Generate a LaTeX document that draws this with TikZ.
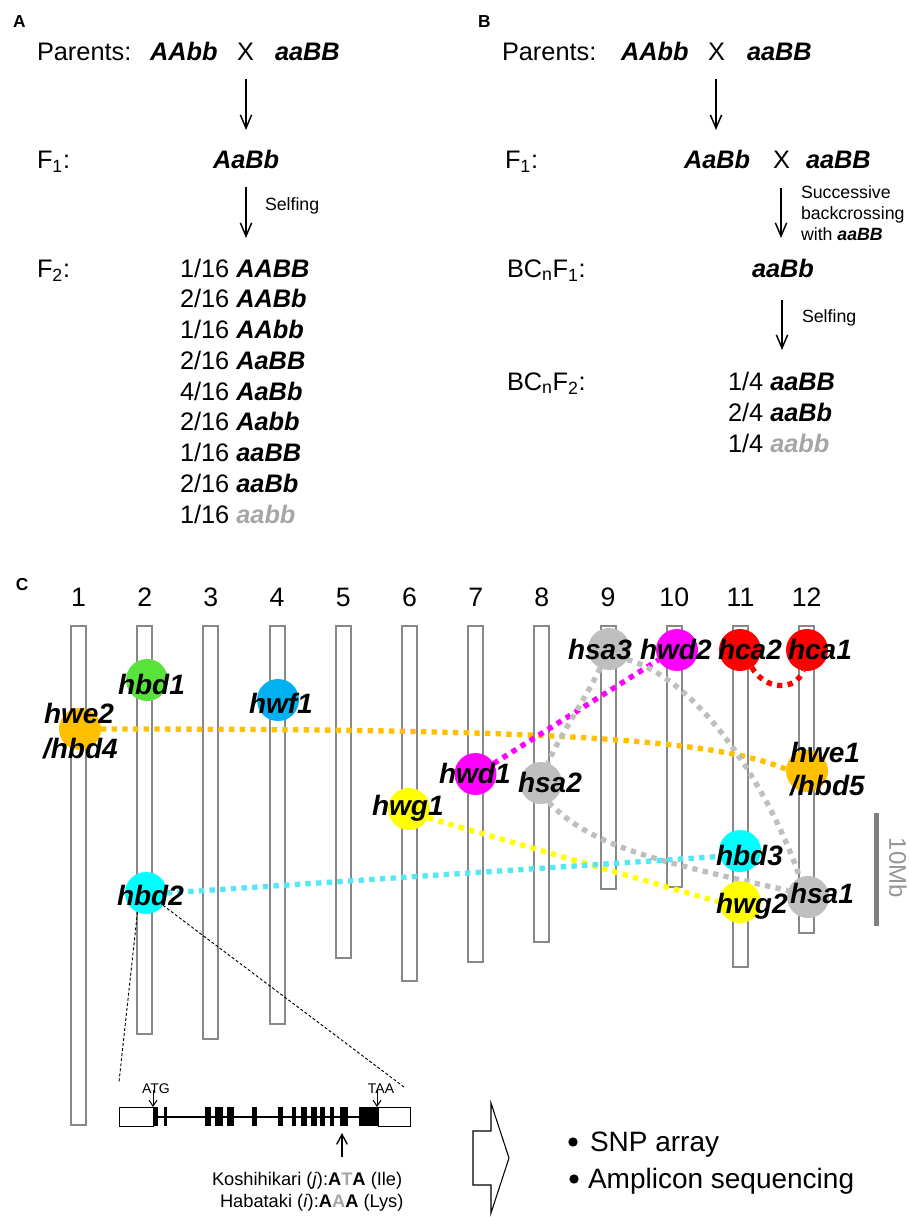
\documentclass[tikz,border=0pt]{standalone}
\usepackage{fontspec}
\setmainfont{Liberation Sans}
\usetikzlibrary{arrows.meta}
\definecolor{chromgray}{RGB}{136,136,136}
\definecolor{cgreen}{RGB}{88,226,58}
\definecolor{cblue}{RGB}{0,176,240}
\definecolor{corange}{RGB}{255,192,0}
\definecolor{ccyan}{RGB}{0,255,255}
\definecolor{clink}{RGB}{85,230,248}
\definecolor{cmagenta}{RGB}{255,0,255}
\definecolor{cyellow}{RGB}{255,255,0}
\definecolor{cred}{RGB}{255,0,0}
\definecolor{cgray}{RGB}{191,191,191}
\definecolor{txtgray}{RGB}{166,166,166}
\definecolor{barmid}{RGB}{128,128,128}
\definecolor{bartext}{RGB}{150,150,150}
\newcommand\geno[1]{\textbf{\textit{#1}}}
\pgfdeclarelayer{back}
\pgfdeclarelayer{links}
\pgfsetlayers{back,links,main}
\begin{document}
\begin{tikzpicture}[x=0.75pt,y=-0.75pt,
  every node/.style={inner sep=0pt,outer sep=0pt},
  big/.style={font=\fontsize{19}{22}\selectfont,anchor=base west},
  note/.style={font=\fontsize{13.3}{16}\selectfont,anchor=base west},
  panel/.style={font=\fontsize{13}{15}\selectfont\bfseries,anchor=base west},
  flow/.style={-{Straight Barb[length=10pt,width=8.5pt]},line width=1.1pt},
  chrom/.style={draw=chromgray,line width=1.4pt,fill=white},
  locus/.style={circle,minimum size=31.5pt,draw=none},
  glab/.style={font=\fontsize{21}{24}\selectfont\bfseries\itshape,anchor=base west},
  link/.style={line width=4pt,dash pattern=on 4pt off 4pt},
  zoomline/.style={line width=0.7pt,dash pattern=on 2.2pt off 1.6pt}]
\useasboundingbox (0,0) rectangle (909,1217);

% ---------------- A: F2 population ----------------
\node[panel] (labA) at (13,27) {A};
\node[big] (pA) at (37,60) {Parents:};
\node[big] (pA1) at (150,60) {\geno{AAbb}};
\node[big] (pAx) at (237,60) {X};
\node[big] (pA2) at (275,60) {\geno{aaBB}};
\coordinate (a1s) at (246,79); \coordinate (a1e) at (246,130);
\draw[flow] (a1s) -- (a1e);
\node[big] (fA) at (37,168) {F\textsubscript{1}:};
\node[big] (fA1) at (213,168) {\geno{AaBb}};
\coordinate (a2s) at (246,187); \coordinate (a2e) at (246,238);
\draw[flow] (a2s) -- (a2e);
\node[note] (sA) at (265,210) {Selfing};
\node[big] (f2A) at (37,277) {F\textsubscript{2}:};
\foreach \r/\fr/\gt/\col in {0/1/AABB/black,1/2/AABb/black,2/1/AAbb/black,3/2/AaBB/black,
  4/4/AaBb/black,5/2/Aabb/black,6/1/aaBB/black,7/2/aaBb/black,8/1/aabb/txtgray}
  \node[big] (rowA\r) at (180,277+30.75*\r) {\fr/16 \textcolor{\col}{\geno{\gt}}};

% ---------------- B: backcross population ----------------
\node[panel] (labB) at (478,27) {B};
\node[big] (pB) at (502,60) {Parents:};
\node[big] (pB1) at (621,60) {\geno{AAbb}};
\node[big] (pBx) at (708,60) {X};
\node[big] (pB2) at (747,60) {\geno{aaBB}};
\coordinate (b1s) at (716,79); \coordinate (b1e) at (716,130);
\draw[flow] (b1s) -- (b1e);
\node[big] (fB) at (505,168) {F\textsubscript{1}:};
\node[big] (fB1) at (684,168) {\geno{AaBb}};
\node[big] (fBx) at (773,168) {X};
\node[big] (fB2) at (806,168) {\geno{aaBB}};
\coordinate (b2s) at (781,188); \coordinate (b2e) at (781,238);
\draw[flow] (b2s) -- (b2e);
\node[note] (bc1) at (801,198) {Successive};
\node[note] (bc2) at (801,219) {backcrossing};
\node[note] (bc3) at (801,240) {with \geno{aaBB}};
\node[big] (bcf1) at (507,277) {BC\textsubscript{n}F\textsubscript{1}:};
\node[big] (bcf1g) at (752,277) {\geno{aaBb}};
\coordinate (b3s) at (782,300); \coordinate (b3e) at (782,350);
\draw[flow] (b3s) -- (b3e);
\node[note] (sB) at (802,322) {Selfing};
\node[big] (bcf2) at (507,390) {BC\textsubscript{n}F\textsubscript{2}:};
\foreach \r/\fr/\gt/\col in {0/1/aaBB/black,1/2/aaBb/black,2/1/aabb/txtgray}
  \node[big] (rowB\r) at (728,390+31*\r) {\fr/4 \textcolor{\col}{\geno{\gt}}};

% ---------------- C: chromosome map ----------------
\node[panel] (labC) at (16,590) {C};
\begin{pgfonlayer}{back}
\foreach \i/\bot in {1/1125,2/1034,3/1039,4/1024,5/958,6/981,7/962,8/942,9/889,10/887,11/967,12/933}{
  \pgfmathsetmacro\cx{78.5+66.2*(\i-1)}
  \draw[chrom] (\cx-7.5,626) rectangle (\cx+7.5,\bot);
  \node[font=\fontsize{20}{24}\selectfont,anchor=base] (num\i) at (\cx,606) {\i};
}
\end{pgfonlayer}

% loci
\node[locus,fill=cgreen]   (c-hbd1) at (147,680) {};
\node[locus,fill=cblue]    (c-hwf1) at (278,700) {};
\node[locus,fill=corange]  (c-hwe2) at (80,729) {};
\node[locus,fill=ccyan]    (c-hbd2) at (146,893) {};
\node[locus,fill=cyellow]  (c-hwg1) at (409,809) {};
\node[locus,fill=cmagenta] (c-hwd1) at (475.5,774) {};
\node[locus,fill=cgray]    (c-hsa2) at (541,783) {};
\node[locus,fill=cgray]    (c-hsa3) at (609,649) {};
\node[locus,fill=cmagenta] (c-hwd2) at (677,650) {};
\node[locus,fill=cred]     (c-hca2) at (740,650) {};
\node[locus,fill=cred]     (c-hca1) at (807,650) {};
\node[locus,fill=corange]  (c-hwe1) at (807,771) {};
\node[locus,fill=ccyan]    (c-hbd3) at (740,851) {};
\node[locus,fill=cyellow]  (c-hwg2) at (740,902) {};
\node[locus,fill=cgray]    (c-hsa1) at (808,897) {};

% links between paralogous loci
\begin{pgfonlayer}{links}
\draw[link,draw=corange] (c-hwe2.east) .. controls (520,729) and (710,737) .. (c-hwe1.175);
\draw[link,draw=cmagenta] (c-hwd1.30) -- (c-hwd2.208);
\draw[link,draw=cred] (c-hca2.-56) .. controls (765,690) and (795,692) .. (c-hca1.-100);
\draw[link,draw=cgray] (c-hsa3.245) .. controls (585,700) and (560,735) .. (c-hsa2.71);
\draw[link,draw=cgray] (c-hsa3.-30) .. controls (700,680) and (770,790) .. (c-hsa1.113);
\draw[link,draw=cgray] (c-hsa2.-68) .. controls (590,845) and (650,860) .. (c-hsa1.162);
\draw[link,draw=cyellow] (c-hwg1.-25) -- (c-hwg2.west);
\draw[link,draw=clink] (c-hbd2.east) -- (c-hbd3.195);
\end{pgfonlayer}

% locus names
\node[glab] (l-hbd1) at (118,694) {hbd1};
\node[glab] (l-hwf1) at (249,713) {hwf1};
\node[glab] (l-hwe2) at (44,723) {hwe2};
\node[glab] (l-hbd4) at (43,758) {/hbd4};
\node[glab] (l-hbd2) at (117,905) {hbd2};
\node[glab] (l-hwg1) at (372,815) {hwg1};
\node[glab] (l-hwd1) at (439,783) {hwd1};
\node[glab] (l-hsa2) at (518,792) {hsa2};
\node[glab] (l-hsa3) at (568,659) {hsa3};
\node[glab] (l-hwd2) at (640,659) {hwd2};
\node[glab] (l-hca2) at (718,659) {hca2};
\node[glab] (l-hca1) at (788,659) {hca1};
\node[glab] (l-hwe1) at (790,762) {hwe1};
\node[glab] (l-hbd5) at (790,795) {/hbd5};
\node[glab] (l-hbd3) at (716,865) {hbd3};
\node[glab] (l-hwg2) at (716,913) {hwg2};
\node[glab] (l-hsa1) at (790,903) {hsa1};

% scale bar
\coordinate (sb1) at (876.5,813); \coordinate (sb2) at (876.5,926);
\draw[barmid,line width=4pt] (sb1) -- (sb2);
\node[font=\fontsize{18}{20}\selectfont,text=bartext,rotate=-90] (sbl) at (898,868) {10Mb};

% zoom into hbd2
\coordinate (z1) at (119,1082); \coordinate (z2) at (404,1087);
\draw[zoomline] (c-hbd2.-114) -- (z1);
\draw[zoomline] (c-hbd2.-36) -- (z2);

% gene model
\draw[line width=1.5pt] (153,1116.5) -- (378,1116.5);
\draw[line width=0.75pt,fill=white] (119,1107) rectangle (153,1126);
\draw[line width=0.75pt,fill=white] (378,1107) rectangle (410,1126);
\foreach \a/\b in {152.7/158,164/167,205/210.7,215/222.7,226.7/234,252.3/256.7,278.3/282.7,
  291.7/296,301/306.7,310.7/316.7,320/325,330/334,340/348.3,359/378}
  \fill (\a,1107) rectangle (\b,1126);
\node[font=\fontsize{10.5}{12}\selectfont,anchor=base] (atg) at (156,1093) {ATG};
\node[font=\fontsize{10.5}{12}\selectfont,anchor=base] (taa) at (381,1093) {TAA};
\coordinate (atgs) at (153,1090); \coordinate (atge) at (153,1107);
\coordinate (taas) at (377,1090); \coordinate (taae) at (377,1107);
\draw[-{Straight Barb[length=4.5pt,width=6pt]},line width=0.75pt] (atgs) -- (atge);
\draw[-{Straight Barb[length=4.5pt,width=6pt]},line width=0.75pt] (taas) -- (taae);
\coordinate (snps) at (342,1157); \coordinate (snpe) at (342,1133);
\draw[-{Straight Barb[length=7.5pt,width=8pt]},line width=1pt] (snps) -- (snpe);
\node[font=\fontsize{13.7}{16}\selectfont,anchor=base west] (kos) at (212,1185)
  {Koshihikari (\textit{j}):\textbf{A\textcolor{txtgray}{T}A} (Ile)};
\node[font=\fontsize{13.7}{16}\selectfont,anchor=base west] (hab) at (220,1207)
  {Habataki (\textit{i}):\textbf{A\textcolor{txtgray}{A}A} (Lys)};

% outlined block arrow and methods
\draw[line width=0.8pt,fill=white] (473,1131) -- (491,1131) -- (491,1103) -- (509,1158)
  -- (491,1213) -- (491,1185) -- (473,1185) -- cycle;
\node[circle,fill=black,minimum size=7pt] (bul1) at (573,1142) {};
\node[circle,fill=black,minimum size=7pt] (bul2) at (574,1179) {};
\node[font=\fontsize{21}{24}\selectfont,anchor=base west] (m1) at (590,1151) {SNP array};
\node[font=\fontsize{21}{24}\selectfont,anchor=base west] (m2) at (588,1188) {Amplicon sequencing};
\end{tikzpicture}
\end{document}
